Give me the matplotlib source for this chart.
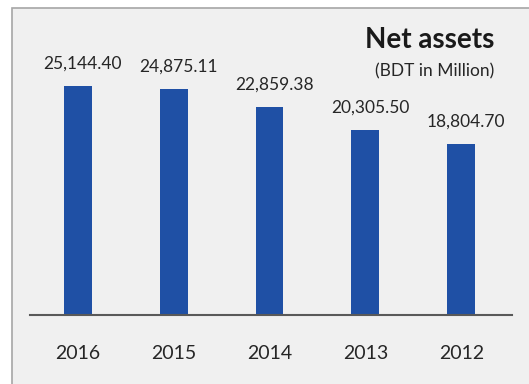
import matplotlib.pyplot as plt
from matplotlib.patches import Rectangle

years = ["2016", "2015", "2014", "2013", "2012"]
net_assets = [25144.40, 24875.11, 22859.38, 20305.50, 18804.70]
value_labels = ["25,144.40", "24,875.11", "22,859.38", "20,305.50", "18,804.70"]

plt.rcParams["font.family"] = ["Lato", "DejaVu Sans"]

W, H = 529, 384
fig = plt.figure(figsize=(W / 100, H / 100), dpi=100)
fig.patch.set_facecolor("white")

# grey panel with a thin border, running off the right and bottom edges
fig.patches.append(Rectangle((12 / W, -0.05), 1.1, (H - 8) / H + 0.05,
                             transform=fig.transFigure, facecolor="#f0f0f0",
                             edgecolor="#a6a6a6", linewidth=1.2, zorder=-1))

ax = fig.add_axes([30 / W, (H - 315) / H, (512 - 30) / W, (315 - 20) / H])
ax.patch.set_alpha(0)

x = list(range(len(years)))
ax.bar(x, net_assets, width=0.29, color="#1f50a5", zorder=2)

for xi, v, lab in zip(x, net_assets, value_labels):
    ax.annotate(lab, (xi + 0.05, v), xytext=(0, 16), textcoords="offset points",
                ha="center", va="center", fontsize=12.5, color="#262626")

ax.set_xlim(-0.50, 4.53)
ax.set_ylim(0, 32400)
ax.set_xticks(x)
ax.set_xticklabels(years, fontsize=14, color="#262626")
ax.tick_params(axis="x", length=0, pad=21.5)
ax.set_yticks([])

for side in ["top", "left", "right"]:
    ax.spines[side].set_visible(False)
ax.spines["bottom"].set_color("#595959")
ax.spines["bottom"].set_linewidth(1.5)

fig.text(494 / W, 1 - 40 / H, "Net assets", ha="right", va="center",
         fontsize=20, fontweight="bold", color="#1a1a1a")
fig.text(494 / W, 1 - 71 / H, "(BDT in Million)", ha="right", va="center",
         fontsize=12.5, color="#262626")

fig.savefig("out.png", dpi=100)
